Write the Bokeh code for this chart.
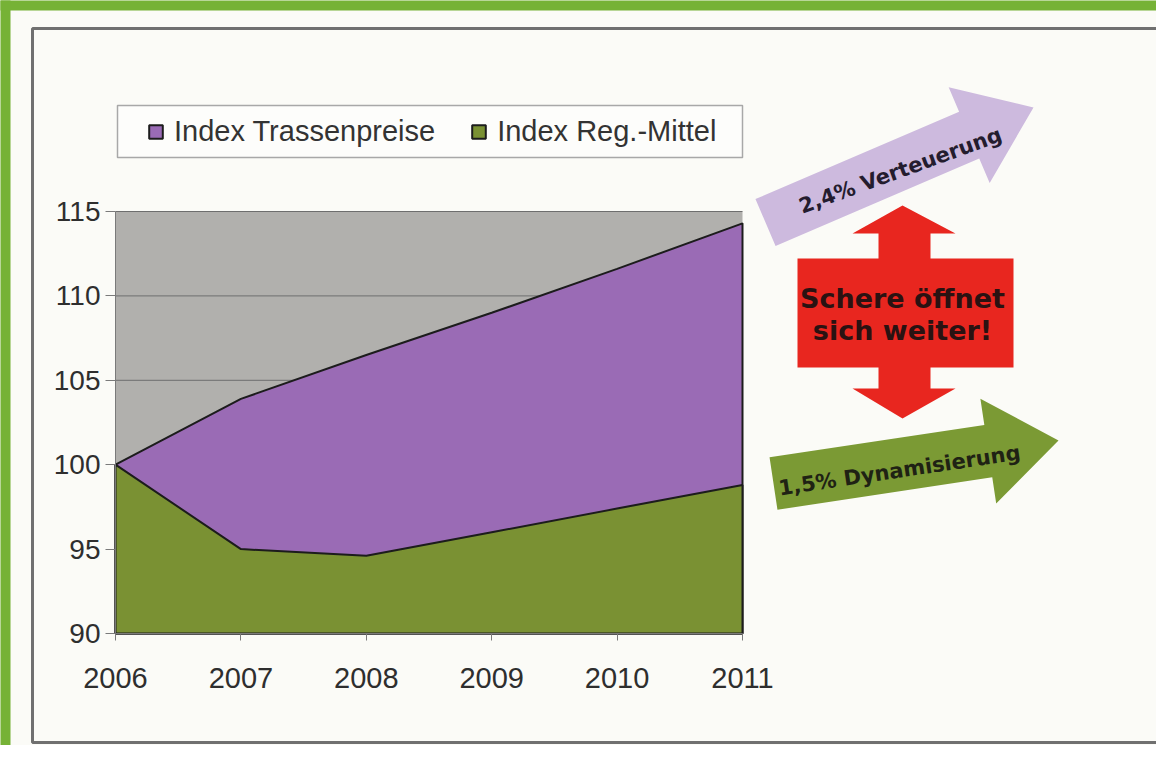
import math
from bokeh.plotting import figure
from bokeh.models import (Range1d, FixedTicker, Legend, LegendItem, PolyAnnotation, Label,
                          LinearAxis)
from bokeh.embed import file_html
from bokeh.resources import INLINE

# ---------------- data ----------------
years = [2006, 2007, 2008, 2009, 2010, 2011]
year_labels = ["2006", "2007", "2008", "2009", "2010", "2011"]
trassenpreise = [100.0, 103.9, 106.5, 109.0, 111.6, 114.3]
reg_mittel = [100.0, 95.0, 94.6, 96.0, 97.4, 98.8]
y_ticks = [90, 95, 100, 105, 110, 115]
y_tick_labels = ["90", "95", "100", "105", "110", "115"]
series_names = ["Index Trassenpreise", "Index Reg.-Mittel"]
arrow_texts = ["2,4% Verteuerung", "Schere öffnet", "sich weiter!", "1,5% Dynamisierung"]

# ---------------- layout (pixels) ----------------
W, H = 1156, 745
PL, PR, PT, PB = 115, 742, 211, 633     # chart plot area

C_GRAY = "#b1b0ad"
C_PURPLE = "#9a6bb5"
C_GREEN = "#7a9133"
C_BG = "#fbfbf7"

x0, x1 = years[0], years[-1]
y0, y1 = y_ticks[0], y_ticks[-1]
xpx = (PR - PL) / (x1 - x0)
ypx = (PB - PT) / (y1 - y0)

p = figure(width=W, height=H, min_border=0,
           x_range=Range1d(x0 - PL / xpx, x1 + (W - PR) / xpx),
           y_range=Range1d(y0 - (H - PB) / ypx, y1 + PT / ypx),
           x_axis_type=None, y_axis_type=None,
           output_backend="svg", toolbar_location=None)
p.background_fill_color = C_BG
p.border_fill_color = C_BG
p.outline_line_color = None
p.grid.visible = False


def D(rx, ry):
    """pixel -> data coordinates"""
    return x0 + (rx - PL) / xpx, y0 + (PB - ry) / ypx


def poly(points, **kw):
    xs, ys = zip(*[D(a, b) for a, b in points])
    kw.setdefault("fill_alpha", 1.0)
    kw.setdefault("line_alpha", 1.0)
    ann = PolyAnnotation(xs=list(xs), ys=list(ys), **kw)
    p.add_layout(ann)
    return ann


# plot area background and grid lines
p.quad(left=x0, right=x1, bottom=y0, top=y1, fill_color=C_GRAY, line_color=None)
p.segment(x0=[x0] * len(y_ticks), x1=[x1] * len(y_ticks), y0=y_ticks, y1=y_ticks,
          line_color="#6e6e6e", line_width=1)

# areas
r1 = p.patch(years + [x1, x0], trassenpreise + [y0, y0],
             fill_color=C_PURPLE, line_color="#1c1c1c", line_width=2)
r2 = p.patch(years + [x1, x0], reg_mittel + [y0, y0],
             fill_color=C_GREEN, line_color="#1c1c1c", line_width=2)

# axes at fixed positions
xaxis = LinearAxis(fixed_location=y0, bounds=(x0, x1),
                   ticker=FixedTicker(ticks=years),
                   major_label_overrides={y: s for y, s in zip(years, year_labels)})
yaxis = LinearAxis(fixed_location=x0, bounds=(y0, y1),
                   ticker=FixedTicker(ticks=y_ticks),
                   major_label_overrides={y: s for y, s in zip(y_ticks, y_tick_labels)})
for ax in (xaxis, yaxis):
    ax.major_label_text_font = "Liberation Sans"
    ax.major_label_text_color = "#2e2e2e"
    ax.axis_line_color = "#7a7a7a"
    ax.major_tick_line_color = "#7a7a7a"
    ax.minor_tick_line_color = None
    ax.major_tick_in = 0
xaxis.major_label_text_font_size = "29px"
xaxis.major_tick_out = 7
xaxis.major_label_standoff = 27
yaxis.major_label_text_font_size = "28px"
yaxis.major_tick_out = 10
yaxis.major_label_standoff = 5
p.add_layout(xaxis, "below")
p.add_layout(yaxis, "left")

# decorations: green page band and chart border
poly([(-5, -5), (1180, -5), (1180, 10), (-5, 10)], fill_color="#76b236", line_color=None)
poly([(-5, -5), (10, -5), (10, 770), (-5, 770)], fill_color="#76b236", line_color=None)
poly([(1190, 28), (32, 28), (32, 742), (1190, 742)], fill_color=None,
     line_color="#707070", line_width=3)

# legend box + legend
poly([(117, 105), (742, 105), (742, 157), (117, 157)], fill_color="#fdfdfb",
     line_color="#a8a8a8", line_width=1.5)
legend = Legend(items=[LegendItem(label=series_names[0], renderers=[r1]),
                       LegendItem(label=series_names[1], renderers=[r2])],
                orientation="horizontal", location=(147, H - 148),
                padding=0, margin=0, spacing=35, glyph_width=17, glyph_height=17,
                label_standoff=10, label_text_font="Liberation Sans",
                label_text_font_size="29px", label_text_color="#333333",
                border_line_color=None, background_fill_alpha=0)
p.add_layout(legend)


def arrow_points(tail, tip, shaft_hw, head_hw, head_len):
    (ax0, ay0), (ax1, ay1) = tail, tip
    L = math.hypot(ax1 - ax0, ay1 - ay0)
    ux, uy = (ax1 - ax0) / L, (ay1 - ay0) / L
    nx, ny = -uy, ux
    bx, by = ax1 - ux * head_len, ay1 - uy * head_len
    return [(ax0 + nx * shaft_hw, ay0 + ny * shaft_hw), (bx + nx * shaft_hw, by + ny * shaft_hw),
            (bx + nx * head_hw, by + ny * head_hw), (ax1, ay1),
            (bx - nx * head_hw, by - ny * head_hw), (bx - nx * shaft_hw, by - ny * shaft_hw),
            (ax0 - nx * shaft_hw, ay0 - ny * shaft_hw)]


# purple arrow
poly(arrow_points((765, 222), (1033, 107), 25.5, 52, 70), fill_color="#cdbade", line_color=None)
# green arrow
poly(arrow_points((773, 483), (1058, 440), 26.5, 53, 71), fill_color="#7b9a34", line_color=None)
# red double arrow
red_pts = [(902, 205), (955, 233), (930, 233), (930, 258), (1013, 258), (1013, 367),
           (930, 367), (930, 388), (955, 388), (902, 418), (852, 388), (878, 388),
           (878, 367), (797, 367), (797, 258), (878, 258), (878, 233), (852, 233)]
poly(red_pts, fill_color="#e8261f", line_color=None)


def label(text, rx, ry, size, angle_deg, color):
    x, y = D(rx, ry)
    p.add_layout(Label(x=x, y=y, text=text, angle=math.radians(angle_deg),
                       text_align="center", text_baseline="middle",
                       text_font="DejaVu Sans", text_font_style="bold",
                       text_font_size=size, text_color=color))


label(arrow_texts[0], 900, 170, "21px", 20, "#241c2e")
label(arrow_texts[1], 902, 298, "27px", 0, "#2a1212")
label(arrow_texts[2], 902, 330, "27px", 0, "#2a1212")
label(arrow_texts[3], 899, 470, "21px", 8.5, "#1f2214")

open("out.html", "w").write(file_html(p, INLINE))
